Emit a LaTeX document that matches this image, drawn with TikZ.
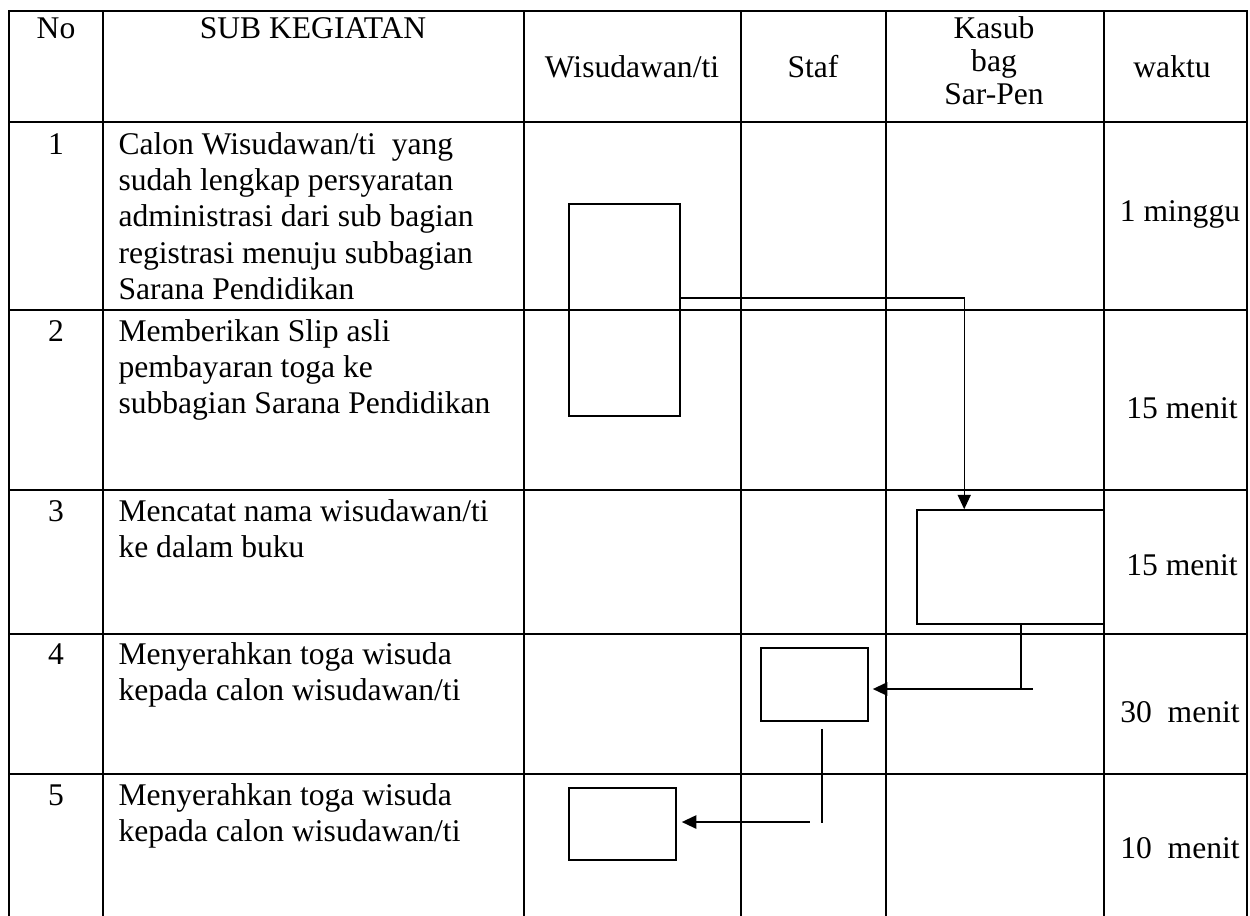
\documentclass[tikz,border=0pt]{standalone}
\usepackage{fontspec}
\setmainfont{Liberation Serif}
\usetikzlibrary{arrows.meta, calc}

\begin{document}
\begin{tikzpicture}[
        x=0.38pt, y=-0.38pt,
        font=\fontsize{12}{13.7}\selectfont,
        % Define styles for the table and the flow
        grid line/.style={line width=0.75pt, line cap=rect},
        actbox/.style 2 args={rectangle, draw=black, line width=0.6pt, inner sep=0pt, minimum width=#1*0.38pt, minimum height=#2*0.38pt},
        celltext/.style={anchor=north west, inner sep=0pt, align=left},
        plain text/.style={anchor=base, inner sep=0pt},
        myarrow/.style={-{Triangle[width=5pt, length=5.5pt]}, line width=0.75pt},
        thin link/.style={line width=0.55pt}
    ]
        \useasboundingbox (0,0) rectangle (1250,915);

        % --- Table grid ---
        \foreach \x in {9,103,524,741,886,1104,1247}
            \draw[grid line] (\x,11) -- (\x,915);
        \foreach \y in {11,122,310,490,634,774}
            \draw[grid line] (9,\y) -- (1247,\y);

        % --- Header ---
        \node[plain text] (hno) at (56,38) {No};
        \node[plain text] (hsub) at (313,38) {SUB KEGIATAN};
        \node[plain text] (hwis) at (632,77) {Wisudawan/ti};
        \node[plain text] (hstaf) at (813,77) {Staf};
        \node[anchor=north, inner sep=0pt, align=center, font=\fontsize{12}{12.4}\selectfont] (hkasub) at (994,16.5) {Kasub\\bag\\Sar-Pen};
        \node[plain text] (hwaktu) at (1172,77) {waktu};

        % --- Rows ---
        \node[plain text] (n1) at (56,154) {1};
        \node[plain text] (n2) at (56,341) {2};
        \node[plain text] (n3) at (56,521) {3};
        \node[plain text] (n4) at (56,664) {4};
        \node[plain text] (n5) at (56,805) {5};

        \node[celltext] (s1) at (118,132.4) {Calon Wisudawan/ti\ \ yang\\sudah lengkap persyaratan\\administrasi dari sub bagian\\registrasi menuju subbagian\\Sarana Pendidikan};
        \node[celltext] (s2) at (118,319.4) {Memberikan Slip asli\\pembayaran toga ke\\subbagian Sarana Pendidikan};
        \node[celltext] (s3) at (118,499.4) {Mencatat nama wisudawan/ti\\ke dalam buku};
        \node[celltext] (s4) at (118,642.4) {Menyerahkan toga wisuda\\kepada calon wisudawan/ti};
        \node[celltext] (s5) at (118,783.4) {Menyerahkan toga wisuda\\kepada calon wisudawan/ti};

        \node[plain text] (w1) at (1180,221) {1 minggu};
        \node[plain text] (w2) at (1182,418) {15 menit};
        \node[plain text] (w3) at (1182,575) {15 menit};
        \node[plain text] (w4) at (1180,722) {30\ \ menit};
        \node[plain text] (w5) at (1180,858) {10\ \ menit};

        % --- Activity boxes ---
        \node[actbox={111}{212}] (b1) at (624.5,310) {};
        \node[actbox={187}{114}] (b3) at (1010.5,567) {};
        \node[actbox={107}{73}] (b4) at (814.5,684.5) {};
        \node[actbox={107}{72}] (b5) at (622.5,824) {};

        % --- Edges ---
        \draw[myarrow, thin link] ($(b1.east)+(0,-12)$) -| ($(b3.north west)+(48,0)$);

        \draw[myarrow, -] ($(b3.south)+(10.5,0)$) -- ($(b3.south)+(10.5,65)$);
        \draw[myarrow] ($(b4.east)+(164,4.5)$) -- ($(b4.east)+(4,4.5)$);

        \draw[thin link] ($(b4.south)+(7.5,7)$) -- ($(b4.south)+(7.5,101)$);
        \draw[myarrow] ($(b5.east)+(133,-2)$) -- ($(b5.east)+(5,-2)$);

    \end{tikzpicture}
\end{document}
